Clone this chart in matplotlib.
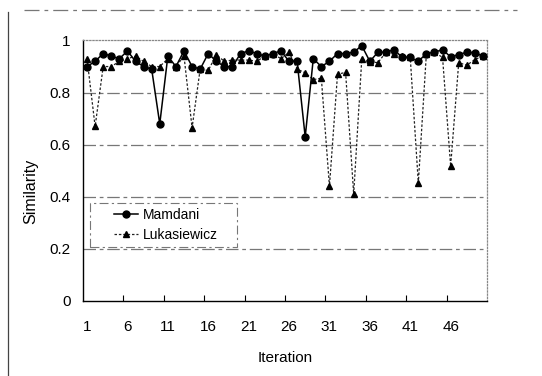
import matplotlib
matplotlib.use("Agg")
import matplotlib.pyplot as plt
from matplotlib.lines import Line2D
from matplotlib.patches import Rectangle

plt.rcParams["font.family"] = ["Liberation Sans", "DejaVu Sans"]

iteration = list(range(1, 51))
tick_iters = [1, 6, 11, 16, 21, 26, 31, 36, 41, 46]
y_ticks = [0, 0.2, 0.4, 0.6, 0.8, 1]
y_tick_labels = ["0", "0.2", "0.4", "0.6", "0.8", "1"]

mamdani = [0.90, 0.92, 0.95, 0.94, 0.93, 0.96, 0.92, 0.90, 0.89, 0.68,
           0.94, 0.90, 0.96, 0.90, 0.89, 0.95, 0.92, 0.90, 0.90, 0.95,
           0.96, 0.95, 0.94, 0.95, 0.96, 0.92, 0.92, 0.63, 0.93, 0.90,
           0.92, 0.95, 0.95, 0.955, 0.98, 0.92, 0.955, 0.955, 0.965, 0.935,
           0.935, 0.92, 0.95, 0.955, 0.965, 0.937, 0.946, 0.955, 0.953, 0.94]

lukasiewicz = [0.93, 0.67, 0.90, 0.90, 0.92, 0.93, 0.94, 0.92, 0.90, 0.90,
               0.93, 0.90, 0.94, 0.665, 0.89, 0.885, 0.945, 0.92, 0.925, 0.925,
               0.925, 0.92, 0.94, 0.95, 0.93, 0.955, 0.89, 0.876, 0.85, 0.855,
               0.44, 0.87, 0.878, 0.41, 0.928, 0.918, 0.915, 0.955, 0.947, 0.94,
               0.935, 0.453, 0.95, 0.955, 0.935, 0.518, 0.915, 0.905, 0.927, 0.94]

W, H = 542, 376
fig = plt.figure(figsize=(W / 100, H / 100), dpi=100)
fig.patch.set_facecolor("white")

# outer (chart area) frame, only top and left survive in the scan
fig.add_artist(Line2D([24 / W, 517 / W], [1 - 10 / H] * 2, transform=fig.transFigure,
                      color="#777777", lw=0.9, ls=(0, (12, 4, 3, 4))))
fig.add_artist(Line2D([8 / W, 8 / W], [1 - 12 / H, 0], transform=fig.transFigure,
                      color="#444444", lw=0.9))

left, right, top, bottom = 83, 487, 40.5, 301
ax = fig.add_axes([left / W, 1 - bottom / H, (right - left) / W, (bottom - top) / H])

grid_ls = (0, (10, 3, 3, 3))
for v in y_ticks[1:-1]:
    ax.axhline(v, color="#777777", lw=0.9, ls=grid_ls, zorder=1)

ax.plot(iteration, mamdani, color="black", lw=1.1, marker="o", ms=5,
        label="Mamdani", zorder=4)
ax.plot(iteration, lukasiewicz, color="#222222", lw=0.9, ls=(0, (2, 1.5)),
        marker="^", ms=5, mfc="black", mec="black", label="Lukasiewicz", zorder=3)

ax.set_xlim(0.5, 50.5)
ax.set_ylim(0, 1)

for side in ("top", "right"):
    ax.spines[side].set_color("#888888")
    ax.spines[side].set_linestyle((0, (1, 1.5)))
    ax.spines[side].set_linewidth(0.9)
for side in ("left", "bottom"):
    ax.spines[side].set_color("black")
    ax.spines[side].set_linewidth(1.0)

ax.set_xticks(tick_iters)
ax.set_xticklabels([str(t) for t in tick_iters])
ax.set_xticks([t + 4.5 for t in tick_iters[:-1]], minor=True)
ax.tick_params(axis="x", which="major", length=0, pad=14, labelsize=11)
ax.tick_params(axis="x", which="minor", direction="in", length=4, width=0.8)
ax.set_yticks(y_ticks)
ax.set_yticklabels(y_tick_labels)
ax.tick_params(axis="y", length=0, pad=9, labelsize=11)

ax.set_xlabel("Iteration", fontsize=11, va="center")
ax.xaxis.set_label_coords(0.5, -0.22)
ax.set_ylabel("Similarity", fontsize=11.5, va="center")
ax.yaxis.set_label_coords(-0.129, 0.42)

# legend box (dashed) and entries
ax.add_patch(Rectangle((0.017, 0.208), 0.364, 0.169, transform=ax.transAxes,
                       fill=True, fc="white", ec="#777777", lw=0.8,
                       ls=(0, (8, 3, 2, 3)), zorder=5))
leg = ax.legend(loc="upper left", bbox_to_anchor=(0.077, 0.357), frameon=False,
                borderpad=0, borderaxespad=0, handlelength=1.7, handletextpad=0.4,
                labelspacing=0.45, fontsize=10)
leg.set_zorder(6)

fig.savefig("out.png", dpi=100)
